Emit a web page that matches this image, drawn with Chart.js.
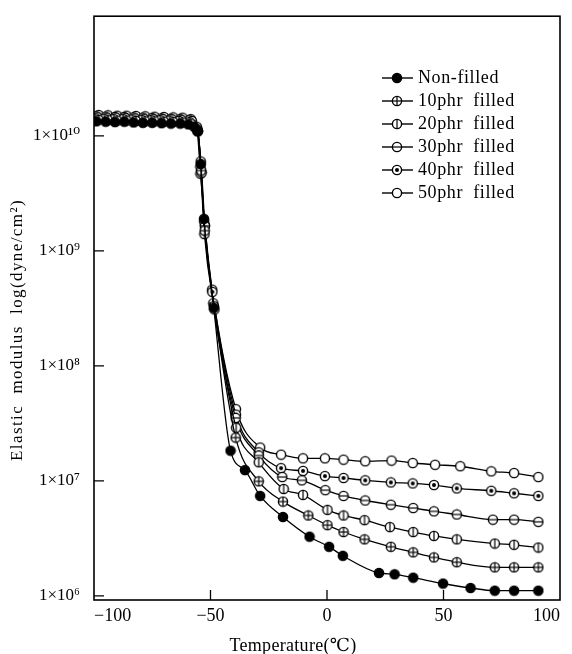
<!DOCTYPE html>
<html>
<head>
<meta charset="utf-8">
<script src="https://cdn.jsdelivr.net/npm/chart.js@4/dist/chart.umd.min.js"></script>
<style>
  html, body { margin: 0; padding: 0; background: #fff; }
</style>
</head>
<body>
<canvas id="modulus-chart" width="572" height="654"></canvas>
<script>
// series names, as in the legend
const seriesNames = ["Non-filled", "10phr  filled", "20phr  filled", "30phr  filled", "40phr  filled", "50phr  filled"];

// temperature (C) / elastic modulus (dyne/cm2)
const nonFilledT = [-99, -95, -91, -87, -83, -79, -75, -71, -67, -63, -59.5, -57, -55.5, -54.2, -52.8, -48.6, -41.4, -35.2, -28.7, -18.9, -7.5, 0.9, 6.8, 22.3, 29, 37, 49.8, 61.6, 72, 80.3, 90.7];
const nonFilledE = [1.34e10, 1.33e10, 1.32e10, 1.33e10, 1.31e10, 1.30e10, 1.30e10, 1.29e10, 1.28e10, 1.28e10, 1.26e10, 1.2e10, 1.1e10, 5.7e9, 1.9e9, 3.2e8, 1.83e7, 1.24e7, 7.4e6, 4.85e6, 3.27e6, 2.67e6, 2.23e6, 1.58e6, 1.54e6, 1.44e6, 1.28e6, 1.17e6, 1.11e6, 1.11e6, 1.11e6];

const phr10T = [-98, -94, -90, -86, -82, -78, -74, -70, -66, -62, -58.5, -55.4, -54, -52.5, -48.5, -39.2, -29.3, -18.9, -8, 0.2, 7.1, 16.1, 27.4, 37, 45.9, 55.7, 72, 80.3, 90.7];
const phr10E = [1.38e10, 1.37e10, 1.36e10, 1.36e10, 1.35e10, 1.34e10, 1.34e10, 1.33e10, 1.32e10, 1.31e10, 1.28e10, 1.1e10, 5.0e9, 1.5e9, 3.3e8, 2.38e7, 9.9e6, 6.6e6, 5.0e6, 4.12e6, 3.59e6, 3.1e6, 2.67e6, 2.39e6, 2.16e6, 1.96e6, 1.77e6, 1.77e6, 1.77e6];

const phr20T = [-99.5, -95.5, -91.5, -87.5, -83.5, -79.5, -75.5, -71.5, -67.5, -63.5, -59, -55.6, -54.3, -52.6, -48.3, -39, -29.3, -18.6, -10.3, 0.2, 7.1, 16.1, 27, 37, 45.9, 55.7, 72, 80.3, 90.7];
const phr20E = [1.42e10, 1.41e10, 1.40e10, 1.40e10, 1.39e10, 1.38e10, 1.37e10, 1.37e10, 1.36e10, 1.35e10, 1.32e10, 1.12e10, 5.4e9, 1.4e9, 3.1e8, 2.9e7, 1.45e7, 8.5e6, 7.55e6, 5.6e6, 5.0e6, 4.55e6, 3.96e6, 3.59e6, 3.32e6, 3.1e6, 2.85e6, 2.78e6, 2.63e6];

const phr30T = [-98.5, -94.5, -90.5, -86.5, -82.5, -78.5, -74.5, -70.5, -66.5, -62.5, -58, -55.5, -53.8, -52.4, -48.8, -39.2, -29.3, -19.2, -10.8, -0.7, 7.1, 16.4, 27.4, 37, 45.9, 55.7, 71.2, 80.3, 90.7];
const phr30E = [1.45e10, 1.44e10, 1.44e10, 1.43e10, 1.42e10, 1.41e10, 1.40e10, 1.40e10, 1.39e10, 1.38e10, 1.35e10, 1.1e10, 4.8e9, 1.65e9, 3.5e8, 3.53e7, 1.66e7, 1.08e7, 1.01e7, 8.3e6, 7.4e6, 6.75e6, 6.2e6, 5.8e6, 5.43e6, 5.1e6, 4.6e6, 4.6e6, 4.4e6];

const phr40T = [-99, -95, -91, -87, -83, -79, -75, -71, -67, -63, -59, -55.7, -54.2, -52.7, -49.2, -39.1, -29.3, -19.7, -10.3, -0.9, 7.1, 16.4, 27.4, 36.8, 45.9, 55.7, 70.5, 80.3, 90.7];
const phr40E = [1.48e10, 1.47e10, 1.46e10, 1.46e10, 1.45e10, 1.44e10, 1.43e10, 1.42e10, 1.41e10, 1.40e10, 1.37e10, 1.14e10, 6.0e9, 1.8e9, 4.4e8, 3.77e7, 1.77e7, 1.29e7, 1.22e7, 1.1e7, 1.06e7, 1.01e7, 9.7e6, 9.5e6, 9.2e6, 8.6e6, 8.2e6, 7.8e6, 7.4e6];

const phr50T = [-98, -94, -90, -86, -82, -78, -74, -70, -66, -62, -58.5, -55.9, -54.3, -52.4, -49.3, -39.1, -28.7, -19.7, -10.3, -0.9, 7.1, 16.4, 27.7, 36.8, 46.4, 57.2, 70.5, 80.3, 90.7];
const phr50E = [1.52e10, 1.51e10, 1.50e10, 1.50e10, 1.49e10, 1.48e10, 1.47e10, 1.46e10, 1.45e10, 1.44e10, 1.40e10, 1.2e10, 4.7e9, 1.66e9, 4.6e8, 4.2e7, 1.95e7, 1.69e7, 1.57e7, 1.57e7, 1.53e7, 1.48e7, 1.5e7, 1.43e7, 1.38e7, 1.34e7, 1.21e7, 1.17e7, 1.08e7];

// axis ticks
const tempTicks = [-100, -50, 0, 50, 100];
const modulusTicks = [1e6, 1e7, 1e8, 1e9, 1e10];
const modulusLabels = ["1×10⁶", "1×10⁷", "1×10⁸", "1×10⁹", "1×10¹⁰"];

const serif = "'Liberation Serif', 'DejaVu Serif', serif";

// little marker images: filled, crossed, vertical bar, horizontal bar, dotted, open
function makeMarker(kind) {
  const c = document.createElement('canvas');
  c.width = 12; c.height = 12;
  const g = c.getContext('2d');
  g.lineWidth = 1.4;
  g.strokeStyle = '#000';
  g.fillStyle = kind === 'solid' ? '#000' : '#fff';
  g.beginPath(); g.arc(6, 6, 4.6, 0, Math.PI * 2); g.fill(); g.stroke();
  g.lineWidth = 1.2;
  if (kind === 'cross' || kind === 'vbar') {
    g.beginPath(); g.moveTo(6, 1.5); g.lineTo(6, 10.5); g.stroke();
  }
  if (kind === 'cross' || kind === 'hbar') {
    g.beginPath(); g.moveTo(1.5, 6); g.lineTo(10.5, 6); g.stroke();
  }
  if (kind === 'dot') {
    g.fillStyle = '#000';
    g.beginPath(); g.arc(6, 6, 2, 0, Math.PI * 2); g.fill();
  }
  return c;
}
const markers = ['solid', 'cross', 'vbar', 'hbar', 'dot', 'open'].map(makeMarker);

const temps = [nonFilledT, phr10T, phr20T, phr30T, phr40T, phr50T];
const moduli = [nonFilledE, phr10E, phr20E, phr30E, phr40E, phr50E];

const datasets = seriesNames.map((name, i) => ({
  label: name,
  data: temps[i].map((t, j) => ({ x: t, y: moduli[i][j] })),
  borderColor: '#000',
  borderWidth: 1.3,
  backgroundColor: '#000',
  pointStyle: markers[i],
  pointRadius: 5,
  cubicInterpolationMode: 'monotone',
  fill: false
}));

// box, inward ticks, legend and axis titles
const decorations = {
  id: 'decorations',
  afterDraw(chart) {
    const { ctx, chartArea: a, scales } = chart;
    ctx.save();
    ctx.strokeStyle = '#000';
    ctx.lineWidth = 1.6;
    ctx.strokeRect(a.left, a.top, a.right - a.left, a.bottom - a.top);

    ctx.lineWidth = 1.3;
    ctx.beginPath();
    modulusTicks.forEach(v => {
      const y = scales.y.getPixelForValue(v);
      ctx.moveTo(a.left, y); ctx.lineTo(a.left + 10, y);
    });
    tempTicks.slice(1, -1).forEach(v => {
      const x = scales.x.getPixelForValue(v);
      ctx.moveTo(x, a.bottom); ctx.lineTo(x, a.bottom - 10);
    });
    ctx.stroke();

    // legend
    ctx.font = '18px ' + serif;
    ctx.fillStyle = '#000';
    ctx.textBaseline = 'middle';
    ctx.textAlign = 'left';
    ctx.letterSpacing = '0.6px';
    seriesNames.forEach((name, i) => {
      const y = 78 + i * 23;
      ctx.lineWidth = 1.4;
      ctx.beginPath(); ctx.moveTo(382, y); ctx.lineTo(413, y); ctx.stroke();
      ctx.drawImage(markers[i], 397 - 6, y - 6);
      ctx.fillText(name, 418, y);
    });

    // x axis title
    ctx.textAlign = 'center';
    ctx.letterSpacing = '0.3px';
    ctx.fillText('Temperature(℃)', 293, 646);

    // y axis title
    ctx.translate(18, 330);
    ctx.rotate(-Math.PI / 2);
    ctx.font = '17px ' + serif;
    ctx.letterSpacing = '1.4px';
    ctx.fillText('Elastic  modulus  log(dyne/cm²)', 0, 0);
    ctx.restore();
  }
};

new Chart(document.getElementById('modulus-chart'), {
  type: 'line',
  data: { datasets },
  options: {
    responsive: false,
    animation: false,
    layout: { padding: { top: 7, right: 12, left: 0, bottom: 0 } },
    plugins: { legend: { display: false }, tooltip: { enabled: false } },
    scales: {
      x: {
        type: 'linear',
        min: -100,
        max: 100,
        grid: { display: false },
        border: { display: false },
        ticks: {
          stepSize: 50,
          align: 'inner',
          padding: -3,
          color: '#000',
          font: { family: serif, size: 18 },
          callback: v => (v < 0 ? '−' + Math.abs(v) : String(v))
        },
        title: { display: false },
        afterFit: s => { s.height = 54; }
      },
      y: {
        type: 'logarithmic',
        min: 9.2e5,
        max: 1.1e11,
        grid: { display: false },
        border: { display: false },
        afterBuildTicks: s => { s.ticks = modulusTicks.map(v => ({ value: v })); },
        ticks: {
          padding: 6,
          color: '#000',
          font: { family: serif, size: 17 },
          callback: v => modulusLabels[modulusTicks.indexOf(v)] || ''
        },
        afterFit: s => { s.width = 94; }
      }
    }
  },
  plugins: [decorations]
});
</script>
</body>
</html>
